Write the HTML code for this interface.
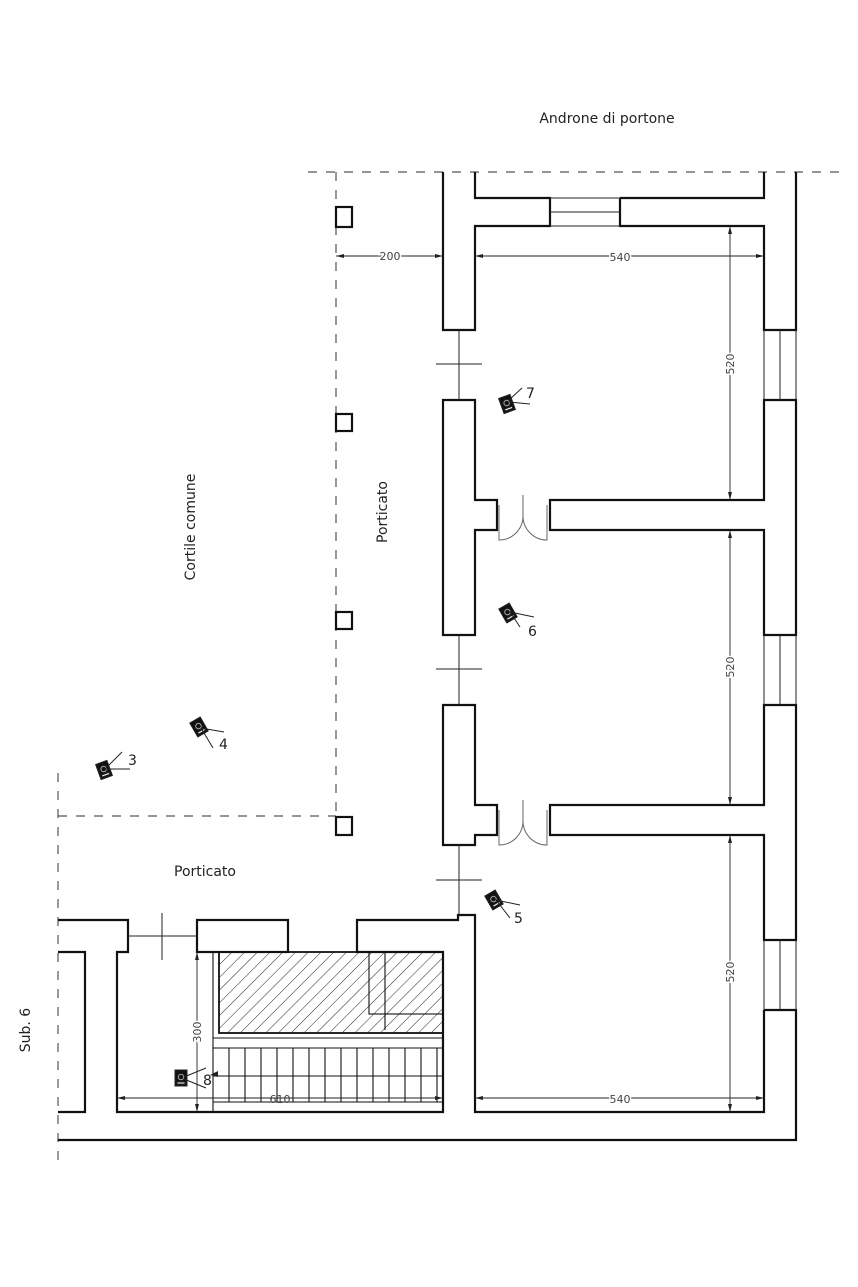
<!DOCTYPE html>
<html><head><meta charset="utf-8"><style>html,body{margin:0;padding:0;background:#fff}svg{display:block}</style></head>
<body>
<svg width="858" height="1287" viewBox="0 0 858 1287" xmlns="http://www.w3.org/2000/svg" font-family="DejaVu Sans, Liberation Sans, sans-serif">
<defs>
<pattern id="h" width="9" height="9" patternUnits="userSpaceOnUse" patternTransform="rotate(45)">
<line x1="0" y1="0" x2="0" y2="9" stroke="#222" stroke-width="1"/></pattern>
<g id="cam"><rect x="-6" y="-8" width="12" height="16" fill="#111"/><circle cx="0" cy="-1" r="3.5" fill="#fff"/><circle cx="0" cy="-1" r="2" fill="#111"/><rect x="-4" y="4" width="8" height="2" fill="#fff"/></g>
</defs>
<g fill="none" stroke="#555" stroke-width="1.2" stroke-dasharray="9,9">
<line x1="308" y1="172" x2="840" y2="172"/>
<line x1="336" y1="172" x2="336" y2="816"/>
<line x1="58" y1="816" x2="336" y2="816"/>
<line x1="58" y1="773" x2="58" y2="1162"/>
</g>
<g fill="none" stroke="#111" stroke-width="2.2">
<rect x="336" y="207" width="16" height="20"/>
<rect x="336" y="414" width="16" height="17"/>
<rect x="336" y="612" width="16" height="17"/>
<rect x="336" y="817" width="16" height="18"/>
<path d="M443 172 V330 H475 V226 H550 V198 H475 V172"/>
<path d="M620 198 V226 H764 V330 H796 V172 M764 172 V198 H620"/>
<path d="M443 400 V635 H475 V530 H497 V500 H475 V400 Z"/>
<path d="M443 705 V845 H475 V835 H497 V805 H475 V705 Z"/>
<path d="M550 500 H764 V400 H796 V635 H764 V530 H550 Z"/>
<path d="M550 805 H764 V705 H796 V940 H764 V835 H550 Z"/>
<path d="M764 1010 H796 V1140 H58"/>
<path d="M764 1010 V1112 H475 V915 H458 V920 H357 V952 H443 V1112 H117 V952 H128 V920 H58"/>
<path d="M58 952 H85 V1112 H58"/>
<rect x="197" y="920" width="91" height="32"/>
</g>
<g stroke="#222" stroke-width="1" fill="none">
<line x1="550" y1="212" x2="620" y2="212"/><line x1="550" y1="198" x2="620" y2="198"/><line x1="550" y1="226" x2="620" y2="226"/>
<line x1="459" y1="330" x2="459" y2="400"/><line x1="436" y1="364" x2="482" y2="364"/>
<line x1="459" y1="635" x2="459" y2="705"/><line x1="436" y1="669" x2="482" y2="669"/>
<line x1="459" y1="845" x2="459" y2="915"/><line x1="436" y1="880" x2="482" y2="880"/>
<line x1="128" y1="936" x2="197" y2="936"/><line x1="162" y1="913" x2="162" y2="960"/>
<path d="M764 330 V400 M796 330 V400 M780 330 V400"/>
<path d="M764 635 V705 M796 635 V705 M780 635 V705"/>
<path d="M764 940 V1010 M796 940 V1010 M780 940 V1010"/>
<path d="M499 505 V540 A24 24 0 0 0 523 516 V495 M523 516 A24 24 0 0 0 547 540 V505" stroke="#666"/>
<path d="M499 810 V845 A24 24 0 0 0 523 821 V800 M523 821 A24 24 0 0 0 547 845 V810" stroke="#666"/>
</g>
<rect x="219" y="952" width="224" height="81" fill="url(#h)" stroke="#111" stroke-width="1.8"/>
<g stroke="#111" stroke-width="1.1" fill="none">
<line x1="213" y1="952" x2="213" y2="1112"/>
<line x1="213" y1="1038" x2="443" y2="1038"/><line x1="213" y1="1048" x2="443" y2="1048"/>
<rect x="369" y="952" width="74" height="62"/><line x1="385" y1="952" x2="385" y2="1030"/>
<line x1="213" y1="1076" x2="443" y2="1076"/><line x1="213" y1="1102" x2="443" y2="1102"/>
<path d="M229 1048V1102M245 1048V1102M261 1048V1102M277 1048V1102M293 1048V1102M309 1048V1102M325 1048V1102M341 1048V1102M357 1048V1102M373 1048V1102M389 1048V1102M405 1048V1102M421 1048V1102M437 1048V1102"/>
</g>
<g stroke="#222" stroke-width="0.9" fill="#222">
<line x1="336" y1="256" x2="443" y2="256"/><line x1="475" y1="256" x2="764" y2="256"/>
<line x1="730" y1="226" x2="730" y2="500"/><line x1="730" y1="530" x2="730" y2="805"/><line x1="730" y1="835" x2="730" y2="1112"/>
<line x1="475" y1="1098" x2="764" y2="1098"/><line x1="117" y1="1098" x2="443" y2="1098"/>
<line x1="197" y1="952" x2="197" y2="1112"/>
<path d="M336 256l8-2v4zM443 256l-8-2v4zM475 256l8-2v4zM764 256l-8-2v4zM730 226l-2 8h4zM730 500l-2-8h4zM730 530l-2 8h4zM730 805l-2-8h4zM730 835l-2 8h4zM730 1112l-2-8h4zM475 1098l8-2v4zM764 1098l-8-2v4zM117 1098l8-2v4zM443 1098l-8-2v4zM197 952l-2 8h4zM197 1112l-2-8h4z" stroke="none"/>
</g>
<g font-size="11" fill="#444" text-anchor="middle">
<text x="390" y="260" style="paint-order:stroke" stroke="#fff" stroke-width="3">200</text>
<text x="620" y="261" style="paint-order:stroke" stroke="#fff" stroke-width="3">540</text>
<text x="620" y="1103" style="paint-order:stroke" stroke="#fff" stroke-width="3">540</text>
<text x="280" y="1103">610</text>
<text transform="translate(734,364) rotate(-90)" style="paint-order:stroke" stroke="#fff" stroke-width="3">520</text>
<text transform="translate(734,667) rotate(-90)" style="paint-order:stroke" stroke="#fff" stroke-width="3">520</text>
<text transform="translate(734,972) rotate(-90)" style="paint-order:stroke" stroke="#fff" stroke-width="3">520</text>
<text transform="translate(201,1032) rotate(-90)" style="paint-order:stroke" stroke="#fff" stroke-width="3">300</text>
</g>
<g font-size="14" fill="#222" text-anchor="middle">
<text x="607" y="123">Androne di portone</text>
<text x="205" y="876">Porticato</text>
<text transform="translate(195,527) rotate(-90)">Cortile comune</text>
<text transform="translate(387,512) rotate(-90)">Porticato</text>
<text transform="translate(30,1030) rotate(-90)">Sub. 6</text>
</g>
<g stroke="#222" stroke-width="1" font-size="14" fill="#222">
<use href="#cam" transform="translate(507,404) rotate(-20)"/><line x1="509" y1="400" x2="522" y2="388"/><line x1="509" y1="402" x2="530" y2="404"/><text x="526" y="398" stroke="none">7</text>
<use href="#cam" transform="translate(508,613) rotate(-30)"/><line x1="510" y1="612" x2="520" y2="627"/><line x1="510" y1="612" x2="534" y2="617"/><text x="528" y="636" stroke="none">6</text>
<use href="#cam" transform="translate(199,727) rotate(-30)"/><line x1="201" y1="728" x2="213" y2="748"/><line x1="201" y1="728" x2="224" y2="732"/><text x="219" y="749" stroke="none">4</text>
<use href="#cam" transform="translate(104,770) rotate(-20)"/><line x1="106" y1="768" x2="122" y2="752"/><line x1="106" y1="769" x2="130" y2="769"/><text x="128" y="765" stroke="none">3</text>
<use href="#cam" transform="translate(494,900) rotate(-30)"/><line x1="496" y1="900" x2="510" y2="918"/><line x1="496" y1="900" x2="520" y2="905"/><text x="514" y="923" stroke="none">5</text>
<use href="#cam" transform="translate(181,1078)"/><line x1="184" y1="1077" x2="206" y2="1068"/><line x1="184" y1="1079" x2="206" y2="1088"/><text x="203" y="1085" stroke="none">8</text>
<path d="M210 1075l8-4v6z" stroke="none"/>
</g>
</svg>
</body></html>
